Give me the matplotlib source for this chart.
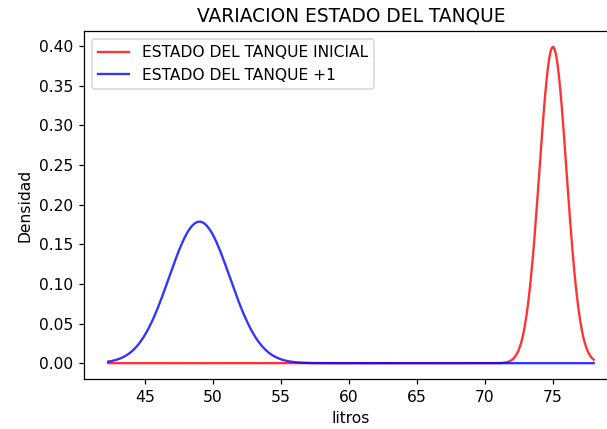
import numpy as np
import matplotlib
matplotlib.use("Agg")
import matplotlib.pyplot as plt

# parametros (media, desviacion) de cada estado
labels = ["ESTADO DEL TANQUE INICIAL", "ESTADO DEL TANQUE +1"]
means = [75.0, 49.0]
sigmas = [1.0, np.sqrt(5.0)]
colors = ["r", "b"]


def normal_pdf(x, mu, sigma):
    return np.exp(-0.5 * ((x - mu) / sigma) ** 2) / (sigma * np.sqrt(2 * np.pi))


def main():
    x = np.linspace(means[1] - 3 * sigmas[1], means[0] + 3 * sigmas[0], 500)

    dpi = 112
    fig = plt.figure(figsize=(607 / dpi, 429 / dpi), dpi=dpi)
    ax = fig.add_axes([84 / 607, 50 / 429, 534 / 607, 348 / 429])

    for mu, sigma, c, lab in zip(means, sigmas, colors, labels):
        ax.plot(x, normal_pdf(x, mu, sigma), color=c, alpha=0.8, label=lab)

    ax.set_title("VARIACION ESTADO DEL TANQUE")
    ax.set_xlabel("litros")
    ax.set_ylabel("Densidad")
    ax.legend(loc="upper left")

    fig.savefig("out.png", dpi=dpi)


if __name__ == "__main__":
    main()
